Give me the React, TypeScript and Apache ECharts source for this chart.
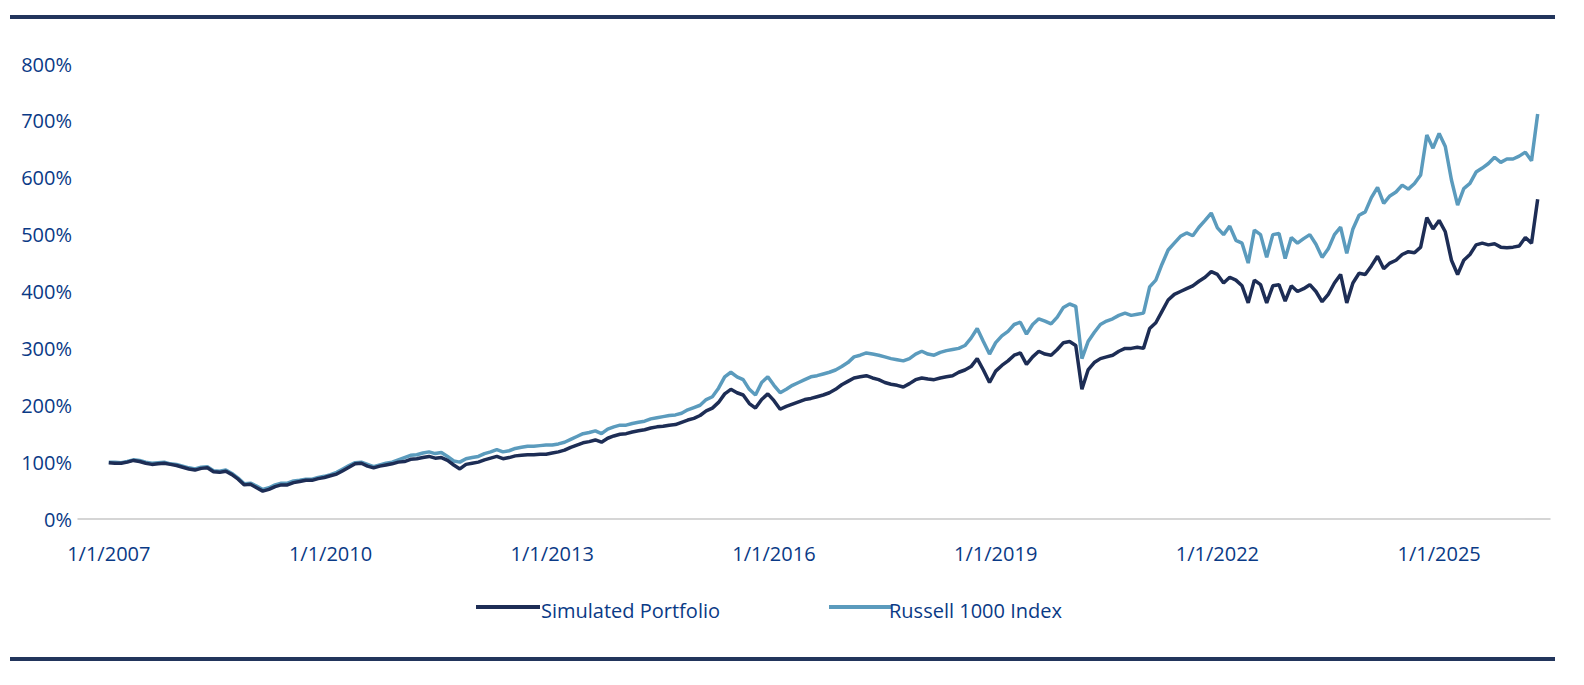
import React, { useEffect, useRef } from "react";
import * as echarts from "echarts";

const startYear = 2007;
const tickLabels = ["1/1/2007", "1/1/2010", "1/1/2013", "1/1/2016", "1/1/2019", "1/1/2022", "1/1/2025"];
const yTicks = [0, 100, 200, 300, 400, 500, 600, 700, 800];
const seriesNames = ["Simulated Portfolio", "Russell 1000 Index"];

// Monthly values (%), Jan 2007 .. May 2026
const russell1000 = [
  100, 100, 99, 101, 104, 103, 100, 98, 99, 100, 97, 96,
  93, 90, 88, 91, 92, 85, 84, 86, 80, 72, 62, 63,
  58, 52, 55, 60, 63, 63, 67, 68, 70, 70, 73, 75,
  78, 82, 88, 94, 99, 100, 96, 92, 95, 98, 100, 104,
  108, 112, 113, 116, 118, 115, 117, 110, 102, 100, 106, 108,
  110, 115, 118, 122, 118, 120, 124, 126, 128, 128, 129, 130,
  130, 132, 135, 140, 145, 150, 152, 155, 150, 158, 162, 165,
  165, 168, 170, 172, 176, 178, 180, 182, 183, 186, 192, 196,
  200, 210, 215, 230, 250, 258, 250, 245, 228, 218, 240, 250,
  235, 222, 228, 235, 240, 245, 250, 252, 255, 258, 262, 268,
  275, 285, 288, 292, 290, 288, 285, 282, 280, 278, 282, 290,
  295, 290, 288, 293, 296, 298, 300, 305, 318, 335, 312, 290,
  310, 322, 330, 342, 346, 325, 342, 352, 348, 343, 355, 372,
  378, 374, 282, 312, 328, 342, 348, 352, 358, 362, 358, 360,
  362, 408, 420, 448, 473, 485, 497, 503, 498, 513, 525, 538,
  512, 500, 515, 490, 485, 450, 508, 500, 460, 500, 502, 458,
  495, 485, 493, 500, 483, 460, 475, 500, 513, 467, 510, 534,
  540, 565, 583, 555, 568, 575, 587, 580, 590, 605, 675, 652,
  678, 655, 596, 552, 581, 590, 610, 617, 625, 636, 627, 633,
  633, 638, 645, 630, 712,
];

const simulatedPortfolio = [
  99, 98, 98, 100, 103, 101, 98, 96, 97, 98, 96, 94,
  91, 88, 86, 89, 90, 83, 82, 84, 78, 70, 60, 61,
  55, 49, 52, 57, 60, 60, 64, 66, 68, 68, 71, 73,
  76, 79, 85, 91, 97, 98, 93, 90, 93, 95, 97, 100,
  101, 105, 106, 108, 110, 107, 108, 103, 95, 88, 96, 98,
  100, 104, 107, 110, 106, 108, 111, 112, 113, 113, 114, 114,
  116, 118, 121, 126, 130, 134, 136, 139, 135, 142, 146, 149,
  150, 153, 155, 157, 160, 162, 163, 165, 166, 170, 174, 177,
  182, 190, 195, 205, 220, 228, 222, 218, 203, 195, 210, 220,
  208, 193, 198, 202, 206, 210, 212, 215, 218, 222, 228, 236,
  242, 248, 250, 252, 248, 245, 240, 237, 235, 232, 238, 245,
  248, 246, 245, 248, 250, 252, 258, 262, 268, 282, 262, 240,
  260, 270, 278, 288, 292, 272, 285, 295, 290, 288, 298, 310,
  312, 305, 228, 262, 275, 282, 285, 288, 295, 300, 300, 302,
  300, 335, 345, 365, 385, 395, 400, 405, 410, 418, 425, 435,
  430, 415, 425, 420, 410, 380, 420, 412, 380, 410, 412, 383,
  410, 400, 405, 412, 400, 382, 395, 415, 430, 380, 415, 432,
  430, 445, 462, 440, 450, 455, 465, 470, 468, 478, 530, 510,
  525, 505, 455, 430, 455, 465, 482, 485, 482, 484, 478, 477,
  478, 480, 495, 485, 562,
];

const BLUE_TEXT = "#0a3a86";
const DARK = "#1d2d55";
const LIGHT = "#5b9bbd";
const RULE = "#22355c";
const FONT = "'Open Sans', 'Noto Sans', sans-serif";

export default function App() {
  const ref = useRef<HTMLDivElement>(null);
  useEffect(() => {
    if (!ref.current) return;
    const chart = echarts.init(ref.current, null, { renderer: "svg" });
    const toPairs = (arr: number[]) => arr.map((v, i) => [i, v]);
    const tickIdx = tickLabels.map((_, i) => i * 36);
    chart.setOption({
      animation: false,
      grid: { left: 78, right: 34, top: 64, bottom: 166 },
      xAxis: {
        type: "value",
        min: -5,
        max: 234,
        splitLine: { show: false },
        axisLine: { show: true, lineStyle: { color: "#c8c8c8", width: 1.5 } },
        axisTick: { show: false },
        axisLabel: {
          customValues: tickIdx,
          formatter: (v: number) => `1/1/${startYear + Math.round(v / 12)}`,
          color: BLUE_TEXT,
          fontFamily: FONT,
          fontSize: 20,
          margin: 24,
        },
      },
      yAxis: {
        type: "value",
        min: 0,
        max: 800,
        interval: 100,
        splitLine: { show: false },
        axisLine: { show: false },
        axisTick: { show: false },
        axisLabel: {
          formatter: (v: number) => (yTicks.includes(v) ? `${v}%` : ""),
          color: BLUE_TEXT,
          fontFamily: FONT,
          fontSize: 20,
          margin: 6,
        },
      },
      series: [
        {
          name: seriesNames[1],
          type: "line",
          data: toPairs(russell1000),
          showSymbol: false,
          lineStyle: { color: LIGHT, width: 3.5 },
          itemStyle: { color: LIGHT },
          z: 2,
        },
        {
          name: seriesNames[0],
          type: "line",
          data: toPairs(simulatedPortfolio),
          showSymbol: false,
          lineStyle: { color: DARK, width: 3.5 },
          itemStyle: { color: DARK },
          z: 3,
        },
      ],
      graphic: [
        { type: "rect", shape: { x: 10, y: 15, width: 1545, height: 4 }, style: { fill: RULE } },
        { type: "rect", shape: { x: 10, y: 657, width: 1545, height: 4 }, style: { fill: RULE } },
        { type: "rect", shape: { x: 476, y: 605, width: 64, height: 4 }, style: { fill: DARK } },
        {
          type: "text", x: 541, y: 610,
          style: { text: seriesNames[0], fill: BLUE_TEXT, font: `20px ${FONT}`, textVerticalAlign: "middle" },
        },
        { type: "rect", shape: { x: 829, y: 605, width: 63, height: 4 }, style: { fill: LIGHT } },
        {
          type: "text", x: 889, y: 610,
          style: { text: seriesNames[1], fill: BLUE_TEXT, font: `20px ${FONT}`, textVerticalAlign: "middle" },
        },
      ],
    });
    return () => chart.dispose();
  }, []);
  return (
    <div
      ref={ref}
      style={{ position: "absolute", left: 0, top: 0, width: 1584, height: 685, background: "#fff" }}
    />
  );
}
